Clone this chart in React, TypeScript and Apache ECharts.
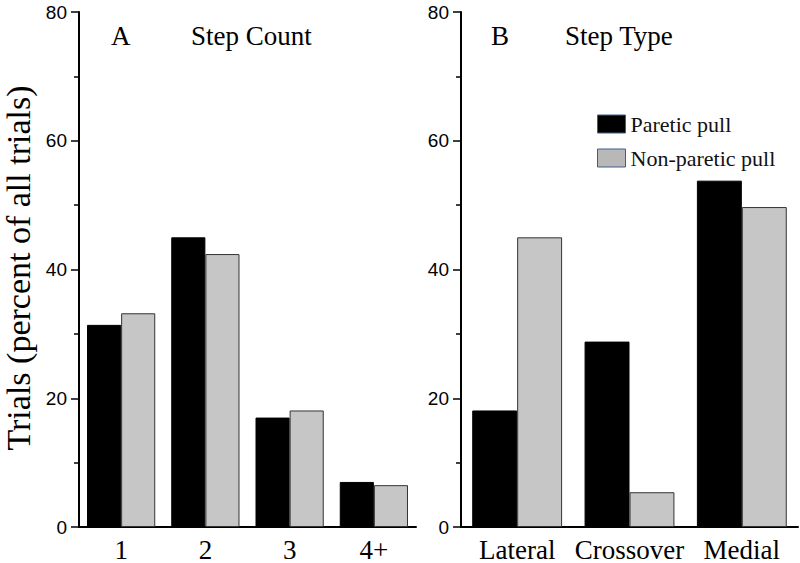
import React, { useEffect, useRef } from "react";
import * as echarts from "echarts";

const countCategories = ["1", "2", "3", "4+"];
const countParetic = [31.4, 45.0, 17.0, 7.0];
const countNonParetic = [33.2, 42.4, 18.1, 6.5];

const typeCategories = ["Lateral", "Crossover", "Medial"];
const typeParetic = [18.1, 28.8, 53.8];
const typeNonParetic = [45.0, 5.4, 49.7];

const yTicks = [0, 20, 40, 60, 80];
const seriesNames = ["Paretic pull", "Non-paretic pull"];

const SERIF = "'Liberation Serif', 'Times New Roman', serif";
const SANS = "'Liberation Sans', Arial, sans-serif";

export default function App() {
  const ref = useRef<HTMLDivElement>(null);
  useEffect(() => {
    if (!ref.current) return;
    const chart = echarts.init(ref.current, null, { renderer: "svg" });
    const yAxisBase = (gridIndex: number) => ({
      type: "value",
      gridIndex,
      min: yTicks[0],
      max: yTicks[yTicks.length - 1],
      interval: 20,
      axisLine: { show: true, lineStyle: { color: "#000", width: 2 } },
      axisTick: { show: true, inside: false, length: 8, lineStyle: { color: "#000", width: 1.5 } },
      minorTick: { show: true, splitNumber: 2, length: 5, lineStyle: { color: "#000", width: 1.5 } },
      splitLine: { show: false },
      axisLabel: { color: "#000", fontFamily: SANS, fontSize: 19, margin: 12 },
    });
    const xAxisBase = (gridIndex: number, data: string[]) => ({
      type: "category",
      gridIndex,
      data,
      axisLine: { show: true, lineStyle: { color: "#000", width: 2 } },
      axisTick: { show: false },
      axisLabel: { color: "#000", fontFamily: SERIF, fontSize: 27, margin: 9, interval: 0 },
    });
    const pareticStyle = { color: "#000", borderColor: "#000", borderWidth: 1 };
    const nonStyle = { color: "#c6c6c6", borderColor: "#333", borderWidth: 1 };
    chart.setOption({
      animation: false,
      backgroundColor: "#fff",
      grid: [
        { left: 79, width: 337, top: 12, bottom: 34 },
        { left: 461, width: 337, top: 12, bottom: 34 },
      ],
      xAxis: [xAxisBase(0, countCategories), xAxisBase(1, typeCategories)],
      yAxis: [yAxisBase(0), yAxisBase(1)],
      legend: {
        left: 592,
        top: 108,
        orient: "vertical",
        icon: "rect",
        itemWidth: 28,
        itemHeight: 18,
        itemGap: 12,
        textStyle: { fontFamily: SERIF, fontSize: 22, color: "#111" },
        data: [
          { name: seriesNames[0], itemStyle: { color: "#000", borderColor: "#3d5f8f", borderWidth: 1 } },
          { name: seriesNames[1], itemStyle: { color: "#b8b8b8", borderColor: "#3d5f8f", borderWidth: 1 } },
        ],
      },
      series: [
        { name: seriesNames[0], type: "bar", xAxisIndex: 0, yAxisIndex: 0, data: countParetic, barGap: "0%", barCategoryGap: "19%", itemStyle: pareticStyle },
        { name: seriesNames[1], type: "bar", xAxisIndex: 0, yAxisIndex: 0, data: countNonParetic, barGap: "0%", barCategoryGap: "19%", itemStyle: nonStyle },
        { name: seriesNames[0], type: "bar", xAxisIndex: 1, yAxisIndex: 1, data: typeParetic, barGap: "0%", barCategoryGap: "20%", itemStyle: pareticStyle },
        { name: seriesNames[1], type: "bar", xAxisIndex: 1, yAxisIndex: 1, data: typeNonParetic, barGap: "0%", barCategoryGap: "20%", itemStyle: nonStyle },
      ],
      graphic: [
        { type: "text", left: 111, top: 22, style: { text: "A", font: `27px ${SERIF}`, fill: "#000" } },
        { type: "text", left: 191, top: 22, style: { text: "Step Count", font: `27px ${SERIF}`, fill: "#000" } },
        { type: "text", left: 491, top: 22, style: { text: "B", font: `27px ${SERIF}`, fill: "#000" } },
        { type: "text", left: 565, top: 22, style: { text: "Step Type", font: `27px ${SERIF}`, fill: "#000" } },
        {
          type: "text",
          x: 18,
          y: 268,
          rotation: Math.PI / 2,
          style: {
            text: "Trials (percent of all trials)",
            font: `34px ${SERIF}`,
            fill: "#000",
            align: "center",
            verticalAlign: "middle",
          },
        },
      ],
    });
    return () => chart.dispose();
  }, []);
  return <div ref={ref} style={{ width: 800, height: 563, position: "fixed", left: 0, top: 0 }} />;
}
